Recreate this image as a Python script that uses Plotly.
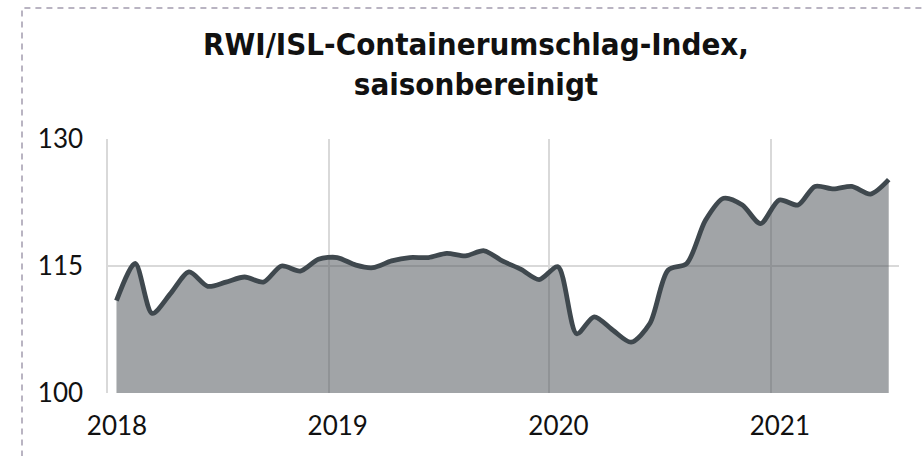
import pandas as pd
import plotly.graph_objects as go

# Monthly observations, Jan 2018 - Jul 2021 (plotted mid-month)
months = (pd.date_range(start="2018-01-01", periods=43, freq="MS") + pd.Timedelta(days=14)).strftime("%Y-%m-%d").tolist()
index_values = [
    110.9, 115.3, 109.4, 111.8, 114.3, 112.6, 113.1, 113.7, 113.1, 115.0, 114.4, 115.8,
    116.0, 115.1, 114.8, 115.6, 116.0, 116.0, 116.5, 116.2, 116.8, 115.6, 114.6, 113.4,
    114.9, 107.0, 109.0, 107.4, 106.0, 108.2, 114.5, 115.3, 120.4, 123.0, 122.2, 120.0,
    122.8, 122.2, 124.4, 124.1, 124.4, 123.5, 125.2,
]
y_ticks = [100, 115, 130]
title_text = "RWI/ISL-Containerumschlag-Index,<br>saisonbereinigt"

grid = "#d9d9d9"
tick_font = dict(family="Lato, sans-serif", size=26, color="#111111")

fig = go.Figure()
fig.add_trace(go.Scatter(
    x=months, y=index_values, mode="lines",
    line=dict(color="#3f484e", width=4.8, shape="spline", smoothing=0.8),
    fill="tozeroy", fillcolor="rgba(83,90,95,0.55)",
    hoverinfo="x+y", showlegend=False,
))

fig.update_layout(
    width=923, height=456,
    margin=dict(l=108, r=24, t=139, b=63),
    paper_bgcolor="white", plot_bgcolor="white",
    title=dict(
        text="<b>" + title_text + "</b>",
        x=476 / 923, xanchor="center", xref="container",
        y=1 - 55 / 456, yanchor="top", yref="container",
        font=dict(family="DejaVu Sans Condensed, DejaVu Sans, sans-serif", size=31, color="#111111"),
    ),
    xaxis=dict(
        type="date", range=["2018-01-01", "2021-08-01"],
        tick0="2018-01-01", dtick="M12", tickformat="%Y",
        showgrid=True, gridcolor=grid, gridwidth=1.5,
        showline=False, zeroline=False, ticks="",
        tickfont=tick_font, ticklabelshift=9, ticklabelstandoff=15,
    ),
    yaxis=dict(
        range=[100, 130], tickvals=y_ticks,
        showgrid=True, gridcolor=grid, gridwidth=1.5,
        showline=True, linecolor=grid, linewidth=1.5,
        zeroline=False, ticks="",
        tickfont=tick_font, ticklabelstandoff=18,
    ),
    shapes=[dict(
        type="rect", xref="paper", yref="paper",
        x0=(22 - 108) / 791, x1=1.2, y0=-0.5, y1=(393 - 8) / 254,
        line=dict(color="#a39cae", width=1.5, dash="6px,5px"),
        fillcolor="rgba(0,0,0,0)", layer="above",
    )],
)

fig.write_html("out.html", config={"displayModeBar": False},
               post_script="document.body.style.margin='0px';")
